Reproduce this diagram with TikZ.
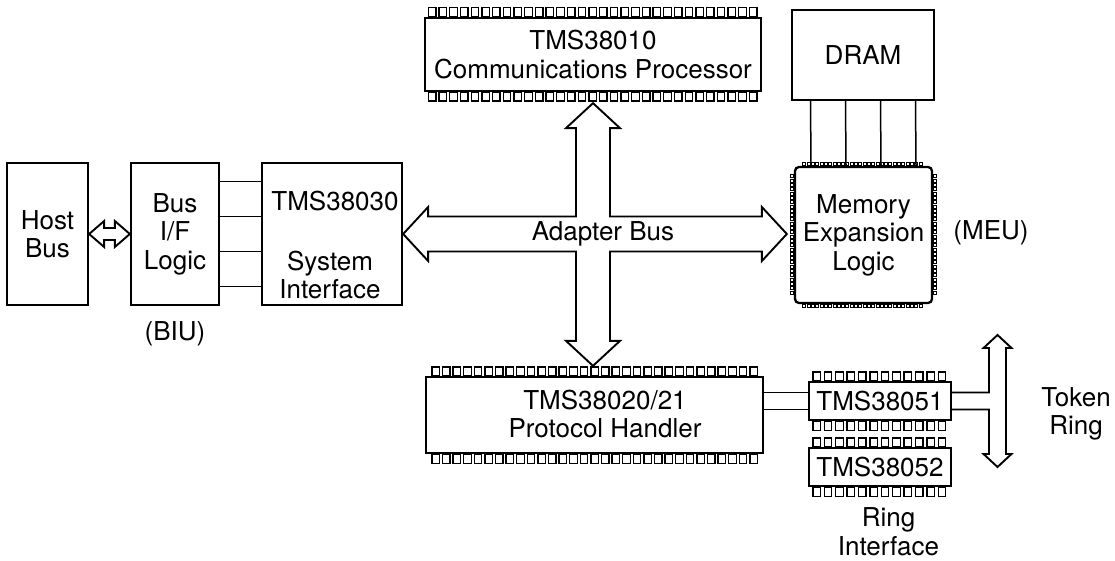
\documentclass[tikz,border=0pt]{standalone}
\usepackage{fontspec}
\setmainfont{TeX Gyre Heros}
\usetikzlibrary{calc}

\begin{document}
\begin{tikzpicture}[x=1pt, y=-1pt,
  font=\fontsize{26}{28.5}\selectfont,
  box/.style={draw, line width=2.3pt, inner sep=2pt, align=center},
  leg/.style={draw, line width=1.3pt},
  bead/.style={draw, line width=0.8pt},
  wire/.style={line width=1.5pt},
  bus/.style={line width=1.9pt, line join=miter},
  txt/.style={inner sep=0pt, align=center}]

\useasboundingbox (0,0) rectangle (1115,561);

% Host side
\node[box, minimum width=81pt, minimum height=142pt] (host) at (47.5,234) {Host\\Bus};
\node[box, minimum width=88pt, minimum height=142pt] (biu) at (175,234) {Bus\\I/F\\Logic};
\node[box, minimum width=140pt, minimum height=142pt] (sif) at (332,234) {};
\node[txt] at (335,201) {TMS38030};
\node[txt] at (330,275) {System\\Interface};
\node[txt] at (175,334) {(BIU)};

% Adapter chips
\node[box, minimum width=336pt, minimum height=73pt] (cp) at (593,54.5) {TMS38010\\Communications Processor};
\node[box, minimum width=337pt, minimum height=76pt] (ph) at (594.5,415) {};
\node[txt] at (605,414) {TMS38020/21\\Protocol Handler};

% Memory
\node[box, minimum width=142pt, minimum height=90pt] (dram) at (863,55) {DRAM};
\node[box, rounded corners=4pt, minimum width=137pt, minimum height=136pt] (meu) at (863.5,235) {Memory\\Expansion\\Logic};
\node[txt] at (991,232.5) {(MEU)};

% Ring interface
\node[box, minimum width=142pt, minimum height=38pt] (ring1) at (880,401) {TMS38051};
\node[box, minimum width=142pt, minimum height=38pt] (ring2) at (880,467) {TMS38052};
\node[txt] at (888.5,531.5) {Ring\\Interface};
\node[txt] at (1076,414) {Token\\Ring};

% Pins
\foreach \i in {0,...,30} {
  \draw[leg] ($(cp.north west)+(4.5+10.7*\i,0)$) rectangle ++(7.5,-9);
  \draw[leg] ($(cp.south west)+(4.5+10.7*\i,0)$) rectangle ++(7.5,9);
  \draw[leg] ($(ph.north west)+(7+10.6*\i,0)$) rectangle ++(7.5,-9);
  \draw[leg] ($(ph.south west)+(7+10.6*\i,0)$) rectangle ++(7.5,9);
}
\foreach \c in {ring1,ring2}
  \foreach \i in {0,...,11} {
    \draw[leg] ($(\c.north west)+(5+11.4*\i,0)$) rectangle ++(7.5,-9);
    \draw[leg] ($(\c.south west)+(5+11.4*\i,0)$) rectangle ++(7.5,9);
  }
\foreach \i in {0,...,27} {
  \draw[bead] ($(meu.north west)+(9+4.3*\i,0)$) rectangle ++(3,-3.5);
  \draw[bead] ($(meu.south west)+(9+4.3*\i,0)$) rectangle ++(3,3.5);
  \draw[bead] ($(meu.north west)+(0,9+4.3*\i)$) rectangle ++(-3.5,3);
  \draw[bead] ($(meu.north east)+(0,9+4.3*\i)$) rectangle ++(3.5,3);
}

% Wires
\foreach \d in {-52.5,-17.5,17.5,52.5} {
  \draw[wire] ($(biu.east)+(0,\d)$) -- ($(sif.west)+(0,\d)$);
  \draw[wire] ($(dram.south)+(\d,0)$) -- ($(meu.north)+(\d,0)$);
}
\foreach \d in {-8.5,8.5} {
  \coordinate (w) at ($(ring1.west)+(0,\d)$);
  \draw[wire] (ph.east |- w) -- (w);
}

% Host bus arrow
\draw[bus] (host.east) -- ++(15,-13) -- ++(0,7) -- ($(biu.west)+(-15,-6)$)
  -- ++(0,-7) -- (biu.west) -- ++(-15,13) -- ++(0,-7)
  -- ($(host.east)+(15,6)$) -- ++(0,7) -- cycle;

% Adapter bus
\coordinate (hub) at (cp.south |- sif.east);
\coordinate (r0) at (hub -| meu.west);
\coordinate (b0) at (hub |- ph.north);
\coordinate (tipL) at (sif.east);
\coordinate (tipR) at ($(r0)+(-7,0)$);
\coordinate (tipT) at ($(cp.south)+(0,11)$);
\coordinate (tipB) at ($(b0)+(0,-10)$);
\draw[bus] (tipL) -- ++(25,-27) -- ++(0,9.5)
  -- ($(hub)+(-17,-17.5)$) -- ($(tipT)+(-17,25)$) -- ++(-10,0) -- (tipT)
  -- ++(27,25) -- ++(-10,0) -- ($(hub)+(17,-17.5)$)
  -- ($(tipR)+(-25,-17.5)$) -- ++(0,-9.5) -- (tipR)
  -- ++(-25,27) -- ++(0,-9.5) -- ($(hub)+(17,17.5)$)
  -- ($(tipB)+(17,-25)$) -- ++(10,0) -- (tipB)
  -- ++(-27,-25) -- ++(10,0) -- ($(hub)+(-17,17.5)$)
  -- ($(tipL)+(25,17.5)$) -- ++(0,9.5) -- cycle;
\node[txt] at ($(hub)+(10,0)$) {Adapter Bus};

% Token ring
\coordinate (tr) at (997.5,401);
\draw[bus] ($(ring1.east)+(0,-8.5)$) -- ($(tr)+(-8.5,-8.5)$) -- ($(tr)+(-8.5,-53)$)
  -- ++(-5.5,0) -- ($(tr)+(0,-66)$) -- ++(14,13) -- ++(-5.5,0) -- ++(0,106)
  -- ++(5.5,0) -- ($(tr)+(0,66)$) -- ++(-14,-13) -- ++(5.5,0)
  -- ($(tr)+(-8.5,8.5)$) -- ($(ring1.east)+(0,8.5)$);

\end{tikzpicture}
\end{document}
